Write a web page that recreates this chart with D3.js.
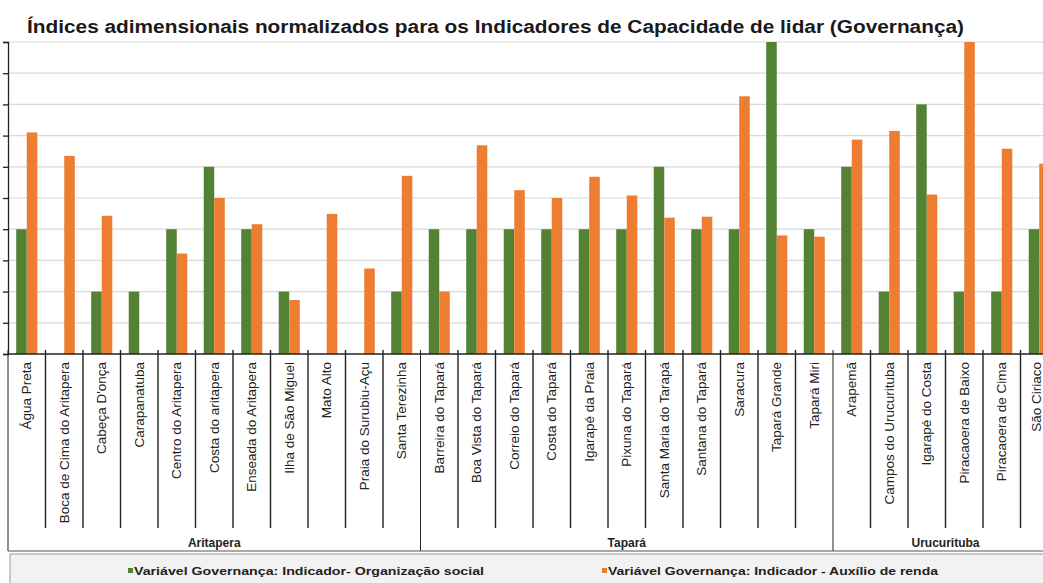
<!DOCTYPE html>
<html>
<head>
<meta charset="utf-8">
<script src="https://cdn.jsdelivr.net/npm/d3@7"></script>
<style>
  body { margin: 0; background: #fff; }
  svg { display: block; font-family: "Liberation Sans", Arial, sans-serif; }
</style>
</head>
<body>
<script>
//------------------------ DATA ------------------------//
const places = [
  "Água Preta", "Boca de Cima do Aritapera", "Cabeça D'onça", "Carapanatuba",
  "Centro do Aritapera", "Costa do aritapera", "Enseada do Aritapera",
  "Ilha de São Miguel", "Mato Alto", "Praia do Surubiu-Açu", "Santa Terezinha",
  "Barreira do Tapará", "Boa Vista do Tapará", "Correio do Tapará", "Costa do Tapará",
  "Igarapé da Praia", "Pixuna do Tapará", "Santa Maria do Tarapá", "Santana do Tapará",
  "Saracura", "Tapará Grande", "Tapará Miri",
  "Arapemã", "Campos do Urucurituba", "Igarapé do Costa", "Piracaoera de Baixo",
  "Piracaoera de Cima", "São Ciriaco"
];
const regions = [
  "Aritapera", "Aritapera", "Aritapera", "Aritapera", "Aritapera", "Aritapera",
  "Aritapera", "Aritapera", "Aritapera", "Aritapera", "Aritapera",
  "Tapará", "Tapará", "Tapará", "Tapará", "Tapará", "Tapará", "Tapará", "Tapará",
  "Tapará", "Tapará", "Tapará",
  "Urucurituba", "Urucurituba", "Urucurituba", "Urucurituba", "Urucurituba", "Urucurituba"
];
// Indicador - Organização social
const orgSocial = [
  0.4, 0, 0.2, 0.2, 0.4, 0.6, 0.4, 0.2, 0, 0, 0.2,
  0.4, 0.4, 0.4, 0.4, 0.4, 0.4, 0.6, 0.4, 0.4, 1.0, 0.4,
  0.6, 0.2, 0.8, 0.2, 0.2, 0.4
];
// Indicador - Auxílio de renda
const auxRenda = [
  0.71, 0.635, 0.443, 0, 0.322, 0.50, 0.416, 0.173, 0.449, 0.274, 0.571,
  0.20, 0.669, 0.525, 0.50, 0.568, 0.508, 0.437, 0.44, 0.826, 0.38, 0.376,
  0.687, 0.715, 0.511, 1.0, 0.658, 0.61
];
const seriesNames = [
  "Variável Governança: Indicador- Organização social",
  "Variável Governança: Indicador - Auxílio de renda"
];
const yTicks = [0, 0.1, 0.2, 0.3, 0.4, 0.5, 0.6, 0.7, 0.8, 0.9, 1.0];

//------------------------ SVG ------------------------//
const width = 1043;
const height = 583;
const plotTop = 42, plotBottom = 354;
const plotLeft = 8, plotRight = 1058;
const colors = ["#548235", "#ED7D31"];

const svg = d3.select('body')
  .append('svg')
  .attr('width', width)
  .attr('height', height);

// title (the original is stretched wide)
svg.append('text')
  .attr('x', 27)
  .attr('y', 33)
  .attr('textLength', 937)
  .attr('lengthAdjust', 'spacingAndGlyphs')
  .style('font-weight', 'bold')
  .style('font-size', '17.5px')
  .style('fill', '#1a1a1a')
  .text("Índices adimensionais normalizados para os Indicadores de Capacidade de lidar (Governança)");

//------------------------ SCALES ------------------------//
const xScale = d3.scaleBand()
  .domain(places)
  .range([plotLeft, plotRight])
  .paddingInner(0);
const xSub = d3.scaleBand()
  .domain([0, 1])
  .range([0, xScale.bandwidth()])
  .paddingOuter(0.78);
const yScale = d3.scaleLinear()
  .domain([0, 1])
  .range([plotBottom, plotTop]);

//------------------------ GRID ------------------------//
svg.append('g')
  .selectAll('line')
  .data(yTicks.slice(1))
  .join('line')
  .attr('x1', plotLeft).attr('x2', width)
  .attr('y1', d => yScale(d)).attr('y2', d => yScale(d))
  .style('stroke', '#d9d9d9')
  .style('stroke-width', 1.2);

//------------------------ BARS ------------------------//
const series = [orgSocial, auxRenda];
series.forEach(function (vals, s) {
  svg.append('g')
    .selectAll('rect')
    .data(places)
    .join('rect')
    .attr('x', d => xScale(d) + xSub(s))
    .attr('width', xSub.bandwidth())
    .attr('y', (d, i) => yScale(vals[i]))
    .attr('height', (d, i) => plotBottom - yScale(vals[i]))
    .style('fill', colors[s]);
});

//------------------------ AXES ------------------------//
svg.append('g')
  .attr('transform', 'translate(' + plotLeft + ',0)')
  .call(d3.axisLeft(yScale).tickValues(yTicks).tickSize(5).tickFormat(''))
  .call(g => g.selectAll('line, path').style('stroke', '#222').style('stroke-width', 1.3));

svg.append('line')
  .attr('x1', plotLeft).attr('x2', width)
  .attr('y1', plotBottom).attr('y2', plotBottom)
  .style('stroke', '#222').style('stroke-width', 1.5);

// category separators
const sepBottom = 528, groupBottom = 551;
const boundaries = places.map((p, i) => ({ x: xScale(p), first: i === 0 || regions[i] !== regions[i - 1] }));
svg.append('g')
  .selectAll('line')
  .data(boundaries)
  .join('line')
  .attr('x1', d => d.x).attr('x2', d => d.x)
  .attr('y1', plotBottom - 4)
  .attr('y2', d => d.first ? groupBottom : sepBottom)
  .style('stroke', '#222')
  .style('stroke-width', d => d.first ? 1 : 1.4);

svg.append('line')
  .attr('x1', plotLeft).attr('x2', width)
  .attr('y1', groupBottom).attr('y2', groupBottom)
  .style('stroke', '#555').style('stroke-width', 1);

// category labels (last one kept inside the visible edge)
svg.append('g')
  .selectAll('text')
  .data(places)
  .join('text')
  .attr('transform', d => 'translate(' + Math.min(xScale(d) + xScale.bandwidth() / 2 + 4.5, width - 2) + ',362) rotate(-90)')
  .attr('text-anchor', 'end')
  .style('font-size', '13.5px')
  .style('fill', '#222')
  .text(d => d);

// region labels
const regionNames = Array.from(new Set(regions));
svg.append('g')
  .selectAll('text')
  .data(regionNames)
  .join('text')
  .attr('x', r => {
    const idx = regions.map((v, i) => v === r ? i : -1).filter(i => i >= 0);
    return (xScale(places[idx[0]]) + xScale(places[idx[idx.length - 1]]) + xScale.bandwidth()) / 2;
  })
  .attr('y', 547)
  .attr('text-anchor', 'middle')
  .style('font-weight', 'bold')
  .style('font-size', '12px')
  .style('fill', '#222')
  .text(r => r);

//------------------------ LEGEND ------------------------//
svg.append('rect')
  .attr('x', 10).attr('y', 554)
  .attr('width', width).attr('height', 40)
  .style('fill', '#f2f2f2')
  .style('stroke', '#999');

const legendX = [128, 602];
const legendLen = [350, 330];
seriesNames.forEach(function (name, s) {
  svg.append('rect')
    .attr('x', legendX[s]).attr('y', 568)
    .attr('width', 5).attr('height', 5)
    .style('fill', colors[s]);
  svg.append('text')
    .attr('x', legendX[s] + 6).attr('y', 574.5)
    .attr('textLength', legendLen[s])
    .attr('lengthAdjust', 'spacingAndGlyphs')
    .style('font-weight', 'bold')
    .style('font-size', '11.5px')
    .style('fill', '#222')
    .text(name);
});
</script>
</body>
</html>
